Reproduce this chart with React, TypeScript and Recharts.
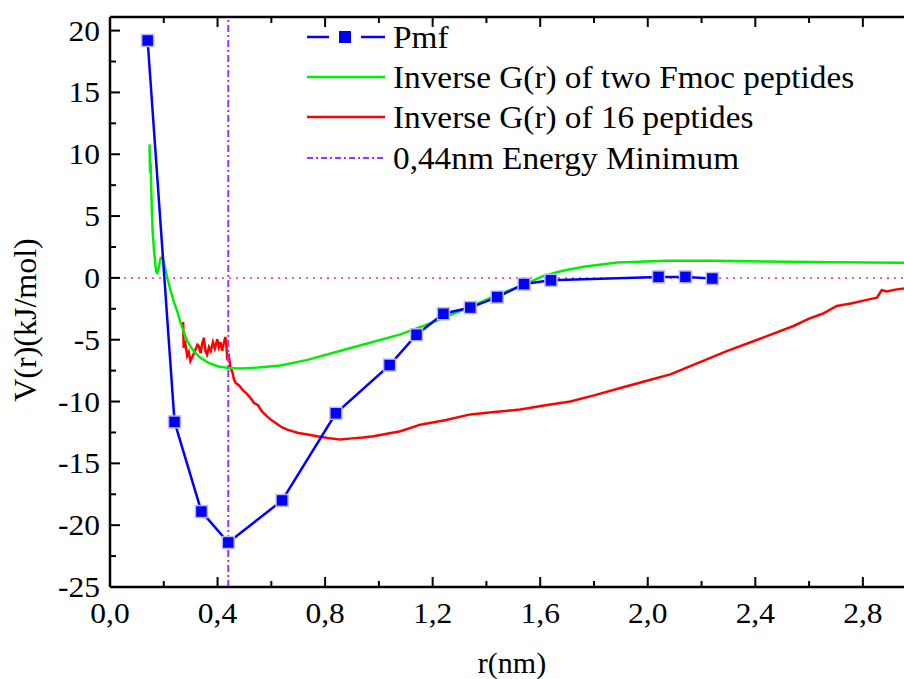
import { LineChart, Line, XAxis, YAxis, ReferenceLine } from "recharts";

// Pmf points
const pmfR = [0.14, 0.24, 0.34, 0.44, 0.64, 0.84, 1.04, 1.14, 1.24, 1.34, 1.44, 1.54, 1.64, 2.04, 2.14, 2.24];
const pmfV = [19.2, -11.65, -18.9, -21.4, -18.0, -10.95, -7.05, -4.6, -2.9, -2.4, -1.55, -0.5, -0.2, 0.08, 0.08, -0.05];

// Inverse G(r) of two Fmoc peptides
const fmocR = [
  0.147, 0.149, 0.151, 0.153, 0.155, 0.158, 0.163, 0.168, 0.172, 0.176, 0.182, 0.188, 0.194, 0.2, 0.207,
  0.213, 0.225, 0.237, 0.25, 0.262, 0.275, 0.287, 0.31, 0.336, 0.365, 0.399, 0.44, 0.485, 0.55, 0.634,
  0.73, 0.831, 0.95, 1.08, 1.2, 1.3, 1.45, 1.54, 1.612, 1.68, 1.761, 1.886, 2.07, 2.25, 2.44, 2.7, 2.953,
];
const fmocV = [
  10.8, 8.5, 9.3, 7.5, 6.0, 4.0, 2.4, 1.2, 0.5, 0.4, 0.9, 1.6, 1.65, 1.3, 0.6,
  0.0, -1.0, -1.9, -2.7, -3.6, -4.4, -5.1, -5.9, -6.46, -6.85, -7.14, -7.28, -7.33, -7.25, -7.08,
  -6.65, -6.06, -5.35, -4.57, -3.6, -2.7, -1.3, -0.55, 0.16, 0.55, 0.9, 1.24, 1.38, 1.38, 1.32, 1.27, 1.22,
];

// Inverse G(r) of 16 peptides
const pep16R = [
  0.272, 0.274, 0.28, 0.287, 0.293, 0.299, 0.31, 0.318, 0.325, 0.33, 0.337, 0.343, 0.349, 0.355, 0.361,
  0.368, 0.375, 0.383, 0.39, 0.399, 0.405, 0.411, 0.417, 0.423, 0.429, 0.433, 0.436, 0.442, 0.448, 0.455,
  0.461, 0.467, 0.48, 0.495, 0.51, 0.522, 0.535, 0.55, 0.565, 0.584, 0.6, 0.62, 0.64, 0.659, 0.7,
  0.73, 0.77, 0.81, 0.857, 0.9, 0.94, 0.98, 1.03, 1.08, 1.154, 1.25, 1.34, 1.43, 1.526, 1.62,
  1.712, 1.8, 1.898, 2.0, 2.084, 2.19, 2.294, 2.42, 2.542, 2.6, 2.65, 2.703, 2.76, 2.81, 2.852,
  2.87, 2.89, 2.92, 2.953,
];
const pep16V = [
  -3.57, -5.65, -5.3, -6.3, -6.0, -6.73, -6.2, -5.8, -5.4, -5.5, -6.1, -5.3, -4.84, -5.9, -6.2,
  -5.6, -5.9, -5.2, -5.7, -4.97, -5.6, -5.2, -5.9, -5.3, -4.78, -5.5, -6.46, -6.3, -7.27, -7.6,
  -8.2, -8.5, -8.7, -9.1, -9.4, -9.7, -10.1, -10.3, -10.8, -11.2, -11.5, -11.8, -12.1, -12.27, -12.55,
  -12.65, -12.8, -12.95, -13.08, -12.98, -12.9, -12.8, -12.6, -12.4, -11.87, -11.5, -11.04, -10.85, -10.65, -10.3,
  -10.0, -9.5, -8.9, -8.3, -7.8, -6.85, -5.92, -4.9, -3.89, -3.3, -2.9, -2.27, -2.05, -1.8, -1.6,
  -1.0, -1.1, -0.95, -0.85,
];

const xTicks = [0, 0.2, 0.4, 0.6, 0.8, 1.0, 1.2, 1.4, 1.6, 1.8, 2.0, 2.2, 2.4, 2.6, 2.8];
const yTicks = [-25, -22.5, -20, -17.5, -15, -12.5, -10, -7.5, -5, -2.5, 0, 2.5, 5, 7.5, 10, 12.5, 15, 17.5, 20];

const pmf = pmfR.map((r, i) => ({ r, v: pmfV[i] }));
const fmoc = fmocR.map((r, i) => ({ r, v: fmocV[i] }));
const pep16 = pep16R.map((r, i) => ({ r, v: pep16V[i] }));

const FONT = "'Liberation Serif', 'Times New Roman', serif";

const stretch = (x: number, s: number) => `matrix(${s} 0 0 1 ${x - s * x} 0)`;

function BottomTick(props: any) {
  const { x, y, payload } = props;
  const major = Math.round(payload.value * 10) % 4 === 0;
  return (
    <g>
      <line x1={x} x2={x} y1={y} y2={y - (major ? 10 : 6)} stroke="#000" strokeWidth={2} />
      {major && (
        <text x={x} y={y + 36} textAnchor="middle" fontSize={30} fontFamily={FONT} fill="#000" transform={stretch(x, 1.05)}>
          {payload.value.toFixed(1).replace(".", ",")}
        </text>
      )}
    </g>
  );
}

function TopTick(props: any) {
  const { x, y, payload } = props;
  const major = Math.round(payload.value * 10) % 4 === 0;
  return <line x1={x} x2={x} y1={y} y2={y + (major ? 10 : 6)} stroke="#000" strokeWidth={2} />;
}

function LeftTick(props: any) {
  const { x, y, payload } = props;
  const major = payload.value % 5 === 0;
  return (
    <g>
      <line x1={x} x2={x + (major ? 10 : 6)} y1={y} y2={y} stroke="#000" strokeWidth={2} />
      {major && (
        <text x={x - 10} y={y + 10} textAnchor="end" fontSize={30} fontFamily={FONT} fill="#000" transform={stretch(x - 10, 1.05)}>
          {payload.value}
        </text>
      )}
    </g>
  );
}

function SquareDot(props: any) {
  const { cx, cy } = props;
  if (cx == null || cy == null) return null;
  return <rect x={cx - 6} y={cy - 6} width={12} height={12} fill="#0000ff" stroke="#b8b8ff" strokeWidth={1.5} />;
}

const legendRows = [
  { label: "Pmf", kind: "pmf", color: "#0000ff" },
  { label: "Inverse G(r) of two Fmoc peptides", kind: "line", color: "#00ee00" },
  { label: "Inverse G(r) of 16 peptides", kind: "line", color: "#ff0000" },
  { label: "0,44nm Energy Minimum", kind: "dash", color: "#9933ff" },
];
const legendY = [37, 77, 117, 158];

function LegendOverlay() {
  return (
    <div style={{ position: "absolute", left: 0, top: 0, pointerEvents: "none" }}>
      {legendRows.map((row, i) => (
        <div key={row.label} style={{ position: "absolute", left: 305, top: legendY[i] - 20, height: 40, display: "flex", alignItems: "center", whiteSpace: "nowrap" }}>
          <svg width={82} height={40} style={{ display: "block" }}>
            {row.kind === "pmf" && (
              <g>
                <line x1={2} x2={24} y1={20} y2={20} stroke={row.color} strokeWidth={2.5} />
                <rect x={34} y={14} width={12} height={12} fill={row.color} />
                <line x1={56} x2={80} y1={20} y2={20} stroke={row.color} strokeWidth={2.5} />
              </g>
            )}
            {row.kind === "line" && <line x1={2} x2={80} y1={20} y2={20} stroke={row.color} strokeWidth={2.5} />}
            {row.kind === "dash" && (
              <line x1={2} x2={80} y1={20} y2={20} stroke={row.color} strokeWidth={2} strokeDasharray="6 3 2 3" />
            )}
          </svg>
          <span
            style={{
              fontFamily: FONT,
              fontSize: 32,
              lineHeight: "40px",
              color: "#000",
              marginLeft: 6,
              display: "inline-block",
              transform: "scaleX(1.04)",
              transformOrigin: "left center",
            }}
          >
            {row.label}
          </span>
        </div>
      ))}
    </div>
  );
}

export default function App() {
  return (
    <div style={{ position: "absolute", left: 0, top: 0, width: 904, height: 679, overflow: "hidden", background: "#fff" }}>
      <LineChart width={904} height={679} margin={{ top: 16, right: 0, bottom: 91, left: 109 }}>
        <XAxis
          xAxisId="bottom"
          dataKey="r"
          type="number"
          domain={[0, 2.953]}
          allowDataOverflow
          ticks={xTicks}
          tick={<BottomTick />}
          tickLine={false}
          tickSize={0}
          tickMargin={0}
          height={1}
          axisLine={{ stroke: "#000", strokeWidth: 2.5 }}
          interval={0}
        />
        <XAxis
          xAxisId="top"
          orientation="top"
          dataKey="r"
          type="number"
          domain={[0, 2.953]}
          allowDataOverflow
          ticks={xTicks}
          tick={<TopTick />}
          tickLine={false}
          tickSize={0}
          tickMargin={0}
          height={1}
          axisLine={{ stroke: "#000", strokeWidth: 2.5 }}
          interval={0}
        />
        <YAxis
          type="number"
          domain={[-25, 21.1]}
          allowDataOverflow
          ticks={yTicks}
          tick={<LeftTick />}
          tickLine={false}
          tickSize={0}
          tickMargin={0}
          width={1}
          axisLine={{ stroke: "#000", strokeWidth: 2.5 }}
          interval={0}
        />
        <ReferenceLine xAxisId="bottom" y={0} stroke="#ee3388" strokeWidth={1.5} strokeDasharray="2 5" />
        <Line
          xAxisId="bottom"
          data={pep16}
          dataKey="v"
          type="linear"
          stroke="#ff0000"
          strokeWidth={2.5}
          dot={false}
          activeDot={false}
          isAnimationActive={false}
        />
        <Line
          xAxisId="bottom"
          data={fmoc}
          dataKey="v"
          type="linear"
          stroke="#00ee00"
          strokeWidth={2.5}
          dot={false}
          activeDot={false}
          isAnimationActive={false}
        />
        <Line
          xAxisId="bottom"
          data={pmf}
          dataKey="v"
          type="linear"
          stroke="#0000ff"
          strokeWidth={2.5}
          dot={<SquareDot />}
          activeDot={false}
          isAnimationActive={false}
        />
        <ReferenceLine xAxisId="bottom" x={0.44} stroke="#9933ff" strokeWidth={2} strokeDasharray="7 3 2 3" />
        <text x={36} y={320} transform="rotate(-90 36 320)" textAnchor="middle" fontSize={32} fontFamily={FONT} fill="#000">
          V(r)(kJ/mol)
        </text>
        <text x={512} y={673} textAnchor="middle" fontSize={30} fontFamily={FONT} fill="#000">
          r(nm)
        </text>
      </LineChart>
      <LegendOverlay />
    </div>
  );
}
